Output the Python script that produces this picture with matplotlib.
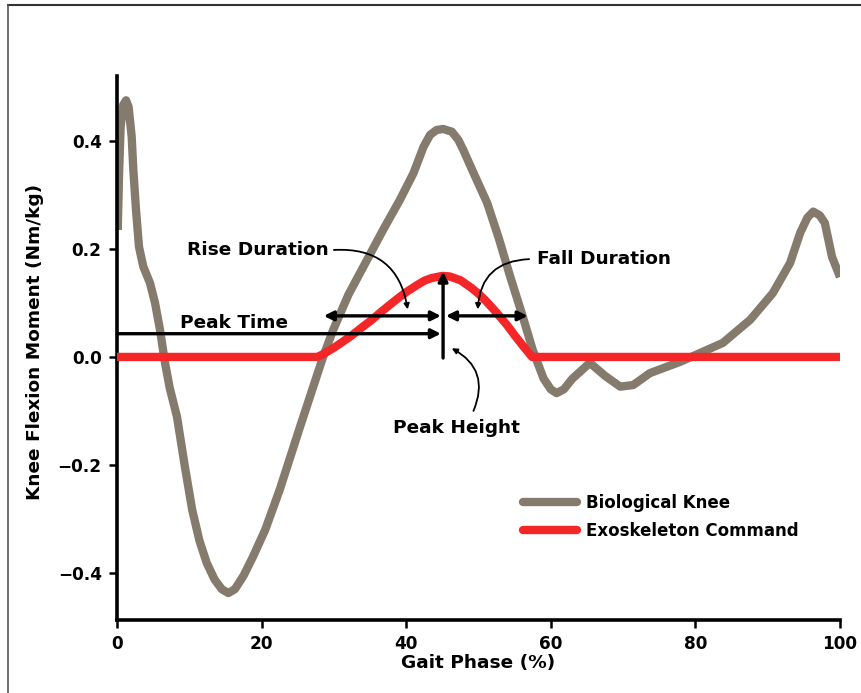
import matplotlib
matplotlib.use("Agg")
import matplotlib.pyplot as plt
from matplotlib.lines import Line2D
from matplotlib.patches import FancyArrowPatch

plt.rcParams['font.family'] = ['DejaVu Sans']
plt.rcParams['font.weight'] = 'bold'

# Biological knee moment
bio_x = [0.1, 0.3, 0.5, 0.87, 1.25, 1.6, 2.03, 2.26, 2.63, 3.04, 3.64, 4.56, 5.26, 5.95,
         6.64, 7.3, 8.3, 9.4, 10.4, 11.4, 12.4, 13.5, 14.5, 15.4, 16.3, 17.5, 18.8, 20.5,
         22.5, 25.3, 28.5, 29.9, 32.0, 34.6, 37.0, 39.1, 41.0, 42.4, 43.3, 44.2, 45.1,
         46.3, 47.2, 47.9, 49.5, 51.2, 52.8, 54.4, 56.0, 57.5, 59.0, 60.0, 60.8, 61.8,
         63.0, 65.4, 67.5, 69.6, 71.4, 73.7, 77.9, 80.6, 83.8, 87.6, 90.7, 93.1, 94.5,
         95.5, 96.3, 97.2, 97.9, 98.9, 100]
bio_y = [0.235, 0.346, 0.426, 0.467, 0.475, 0.463, 0.408, 0.346, 0.272, 0.204, 0.167,
         0.137, 0.1, 0.05, -0.011, -0.058, -0.111, -0.204, -0.283, -0.34, -0.381, -0.412,
         -0.43, -0.437, -0.43, -0.405, -0.37, -0.32, -0.246, -0.13, 0.0, 0.05, 0.115,
         0.18, 0.24, 0.29, 0.34, 0.389, 0.411, 0.42, 0.422, 0.417, 0.402, 0.383, 0.335,
         0.285, 0.22, 0.148, 0.08, 0.013, -0.04, -0.06, -0.067, -0.06, -0.04, -0.011,
         -0.035, -0.055, -0.052, -0.03, -0.009, 0.007, 0.026, 0.069, 0.118, 0.174, 0.23,
         0.258, 0.269, 0.262, 0.248, 0.185, 0.148]

# Exoskeleton command
exo_x = [0, 27.7, 28.5, 30.0, 31.0, 32.5, 34.0, 35.0, 36.5, 37.5, 39.0, 40.0, 41.5, 42.5,
         43.5, 45.0, 46.0, 47.5, 49.0, 50.0, 51.0, 52.5, 54.0, 55.0, 56.0, 57.4, 100]
exo_y = [0, 0, 0.005, 0.017, 0.026, 0.040, 0.056, 0.066, 0.083, 0.094, 0.110, 0.120, 0.133,
         0.141, 0.146, 0.150, 0.149, 0.142, 0.128, 0.117, 0.104, 0.082, 0.058, 0.040,
         0.023, 0.0, 0]

x_ticks = [0, 20, 40, 60, 80, 100]
y_ticks = [-0.4, -0.2, 0.0, 0.2, 0.4]

bio_color = '#857b6d'
exo_color = '#f42628'

fig = plt.figure(figsize=(8.61, 6.93), dpi=100)
ax = fig.add_axes([117/861, 1-619.5/693, (840-117)/861, (619.5-76)/693])

ax.plot(bio_x, bio_y, color=bio_color, lw=6.0, solid_capstyle='butt',
        solid_joinstyle='round', label='Biological Knee', zorder=2)
ax.plot(exo_x, exo_y, color=exo_color, lw=6.0, solid_capstyle='butt',
        solid_joinstyle='round', label='Exoskeleton Command', zorder=3)

ax.set_xlim(0, 100)
ax.set_ylim(-0.486, 0.52)
ax.set_xticks(x_ticks)
ax.set_yticks(y_ticks)
ax.set_xticklabels([f"{t:d}" for t in x_ticks])
ax.set_yticklabels([f"{t:.1f}".replace('-', '\u2212') for t in y_ticks])
for s in ['top', 'right']:
    ax.spines[s].set_visible(False)
for s in ['left', 'bottom']:
    ax.spines[s].set_linewidth(2.6)
ax.tick_params(axis='both', width=1.8, length=6, labelsize=12.2, pad=5)
for lab in ax.get_xticklabels() + ax.get_yticklabels():
    lab.set_fontweight('bold')

ax.set_xlabel('Gait Phase (%)', fontsize=13.3, fontweight='bold')
ax.set_ylabel('Knee Flexion Moment (Nm/kg)', fontsize=13.3, fontweight='bold')
ax.xaxis.set_label_coords(0.5, (619.5 - 663) / 543.5)
ax.yaxis.set_label_coords((35 - 117) / 723, (619.5 - 341.5) / 543.5)
ax.xaxis.label.set_va('center')
ax.yaxis.label.set_va('center')

# Annotation arrows
def straight(x0, y0, x1, y1, style):
    a = FancyArrowPatch((x0, y0), (x1, y1), arrowstyle=style, mutation_scale=14,
                        lw=2.4, color='black', shrinkA=0, shrinkB=0, zorder=5)
    ax.add_patch(a)

straight(45.1, -0.002, 45.1, 0.158, '-|>')          # peak height bar
straight(28.6, 0.076, 44.8, 0.076, '<|-|>')          # rise duration
straight(45.5, 0.076, 56.8, 0.076, '<|-|>')          # fall duration
straight(0.0, 0.043, 44.8, 0.043, '-|>')             # peak time

def curved(x0, y0, x1, y1, rad):
    a = FancyArrowPatch((x0, y0), (x1, y1), arrowstyle='-|>', mutation_scale=8,
                        lw=1.3, color='black', shrinkA=0, shrinkB=0,
                        connectionstyle=f'arc3,rad={rad}', zorder=5)
    ax.add_patch(a)

tkw = dict(fontsize=13.3, fontweight='bold', color='black', zorder=6)
ax.text(19.5, 0.198, 'Rise Duration', ha='center', va='center', **tkw)
curved(30.0, 0.198, 40.2, 0.088, -0.45)
ax.text(67.4, 0.181, 'Fall Duration', ha='center', va='center', **tkw)
curved(57.0, 0.181, 49.9, 0.088, 0.45)
ax.text(16.2, 0.062, 'Peak Time', ha='center', va='center', **tkw)
ax.text(46.9, -0.131, 'Peak Height', ha='center', va='center', **tkw)
curved(49.3, -0.100, 46.3, 0.016, 0.45)

leg = ax.legend(loc='upper left', bbox_to_anchor=(511/861, 1-482/693),
                bbox_transform=fig.transFigure, frameon=False, fontsize=12,
                handlelength=3.23, handletextpad=0.54, labelspacing=0.63,
                borderpad=0.2)
for h in leg.get_lines():
    h.set_solid_capstyle('round')
    h.set_linewidth(6.0)
for t in leg.get_texts():
    t.set_fontweight('bold')

# outer frame (partially cropped)
fig.add_artist(Line2D([8/861, 1.0], [1-5/693, 1-5/693], color='#333333', lw=1.5,
                      transform=fig.transFigure))
fig.add_artist(Line2D([8/861, 8/861], [0.0, 1-5/693], color='#555555', lw=1.2,
                      transform=fig.transFigure))

fig.savefig('out.png', dpi=100)
